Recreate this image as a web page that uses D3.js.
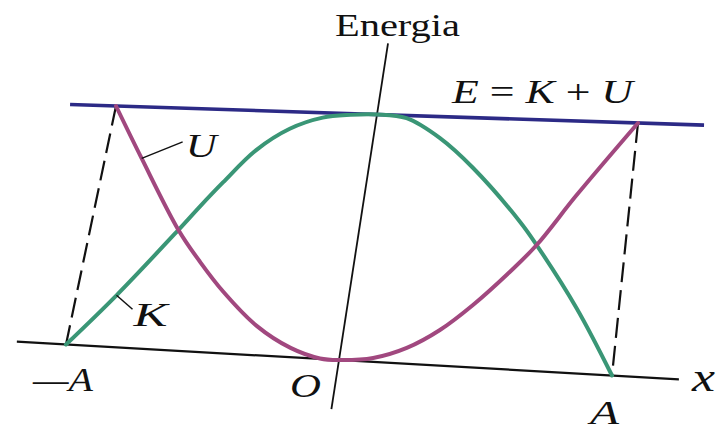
<!DOCTYPE html>
<html>
<head>
<meta charset="utf-8">
<script src="https://cdn.jsdelivr.net/npm/d3@7"></script>
<style>
  html, body { margin: 0; padding: 0; background: #fff; }
  svg { display: block; }
  text { font-family: "Liberation Serif", "Times New Roman", Times, "Nimbus Roman", serif; fill: #111; }
</style>
</head>
<body>
<svg id="chart" width="722" height="431"></svg>
<script>
// ---- Data (x in units of A, energy in units of E) ----
const xU = [-1, -0.862, -0.672, -0.569, -0.463, -0.32, -0.183, -0.07, 0.0, 0.123, 0.24, 0.352, 0.461, 0.582, 0.669, 0.797, 1];
const U  = [1, 0.786, 0.497, 0.369, 0.251, 0.12, 0.038, 0.002, 0, 0.016, 0.064, 0.143, 0.25, 0.39, 0.501, 0.706, 1];
const xK = [-1, -0.853, -0.672, -0.608, -0.539, -0.436, -0.323, -0.205, -0.1, 0, 0.115, 0.253, 0.394, 0.596, 0.669, 0.844, 1];
const K  = [0, 0.215, 0.497, 0.598, 0.70, 0.838, 0.93, 0.98, 0.995, 1, 0.989, 0.913, 0.798, 0.591, 0.501, 0.258, 0];
const totalE = 1;
const amplitude = 1;
const axisLabels = { vertical: "Energia", horizontal: "x", origin: "O", negA: "\u2014A", posA: "A" };
const seriesNames = ["U", "K"];

// ---- Layout: the figure is drawn in a skewed (oblique) frame ----
const svg = d3.select("#chart");
const sx = d3.scaleLinear().domain([-amplitude, amplitude]).range([0, 1]);
const sy = d3.scaleLinear().domain([0, totalE]).range([0, 1]);
// pixel corners of the frame (-A,0), (A,0), (-A,E), (A,E)
const BL = [66, 344.5], BR = [612, 375.5], TL = [116, 106], TR = [638, 123];
function project(x, e) {
  const s = sx(x), v = sy(e);
  const bx = BL[0] + (BR[0] - BL[0]) * s, by = BL[1] + (BR[1] - BL[1]) * s;
  const tx = TL[0] + (TR[0] - TL[0]) * s, ty = TL[1] + (TR[1] - TL[1]) * s;
  return [bx + (tx - bx) * v, by + (ty - by) * v];
}
const straight = d3.line();

// x axis
svg.append("path")
  .attr("d", straight([project(-1.18, 0), project(1.245, 0)]))
  .attr("stroke", "#111").attr("stroke-width", 2.2).attr("fill", "none");
// vertical axis
svg.append("path")
  .attr("d", straight([project(0, -0.2), project(0, 1.29)]))
  .attr("stroke", "#111").attr("stroke-width", 1.8).attr("fill", "none");
// dashed amplitude lines
[-amplitude, amplitude].forEach(a => {
  svg.append("path")
    .attr("d", straight([project(a, totalE), project(a, 0)]))
    .attr("stroke", "#111").attr("stroke-width", 2.2).attr("fill", "none")
    .attr("stroke-dasharray", "20 8");
});
// E line
svg.append("path")
  .attr("d", straight([project(-1.176, totalE), project(1.253, totalE)]))
  .attr("stroke", "#2c2a86").attr("stroke-width", 3.6).attr("fill", "none");

const curve = d3.line().curve(d3.curveCatmullRom.alpha(0.5));
// K curve
svg.append("path")
  .attr("d", curve(xK.map((x, i) => project(x, K[i]))))
  .attr("stroke", "#3a9676").attr("stroke-width", 4).attr("fill", "none")
  .attr("stroke-linecap", "round");
// U curve
svg.append("path")
  .attr("d", curve(xU.map((x, i) => project(x, U[i]))))
  .attr("stroke", "#a1487f").attr("stroke-width", 4).attr("fill", "none")
  .attr("stroke-linecap", "round");

// leader lines for curve labels
const uA = project(xU[1], U[1]);
svg.append("line").attr("x1", uA[0]).attr("y1", uA[1]).attr("x2", uA[0] + 41).attr("y2", uA[1] - 16.5)
  .attr("stroke", "#111").attr("stroke-width", 1.5);
const kA = project(xK[1], K[1]);
svg.append("line").attr("x1", kA[0]).attr("y1", kA[1]).attr("x2", kA[0] + 16).attr("y2", kA[1] + 14)
  .attr("stroke", "#111").attr("stroke-width", 1.5);

// ---- Text ----
function label(x, y, txt, size, len, italic) {
  return svg.append("text")
    .attr("x", x).attr("y", y)
    .attr("font-size", size)
    .attr("font-style", italic ? "italic" : "normal")
    .attr("textLength", len).attr("lengthAdjust", "spacingAndGlyphs")
    .text(txt);
}
label(335, 36, axisLabels.vertical, 31, 125, false);
// E = K + U
const eq = svg.append("text").attr("x", 452).attr("y", 103).attr("font-size", 34)
  .attr("textLength", 181).attr("lengthAdjust", "spacingAndGlyphs");
eq.append("tspan").attr("font-style", "italic").text("E");
eq.append("tspan").text(" = ");
eq.append("tspan").attr("font-style", "italic").text(seriesNames[1]);
eq.append("tspan").text(" + ");
eq.append("tspan").attr("font-style", "italic").text(seriesNames[0]);

label(uA[0] + 44, uA[1] - 1, seriesNames[0], 34, 31, true);
label(kA[0] + 17, kA[1] + 31, seriesNames[1], 34, 34, true);
label(33, 391, axisLabels.negA, 34, 60, true);
label(290, 397, axisLabels.origin, 34, 31, true);
label(590, 424, axisLabels.posA, 34, 29, true);
label(692, 391, axisLabels.horizontal, 42, 23, true);
</script>
</body>
</html>
